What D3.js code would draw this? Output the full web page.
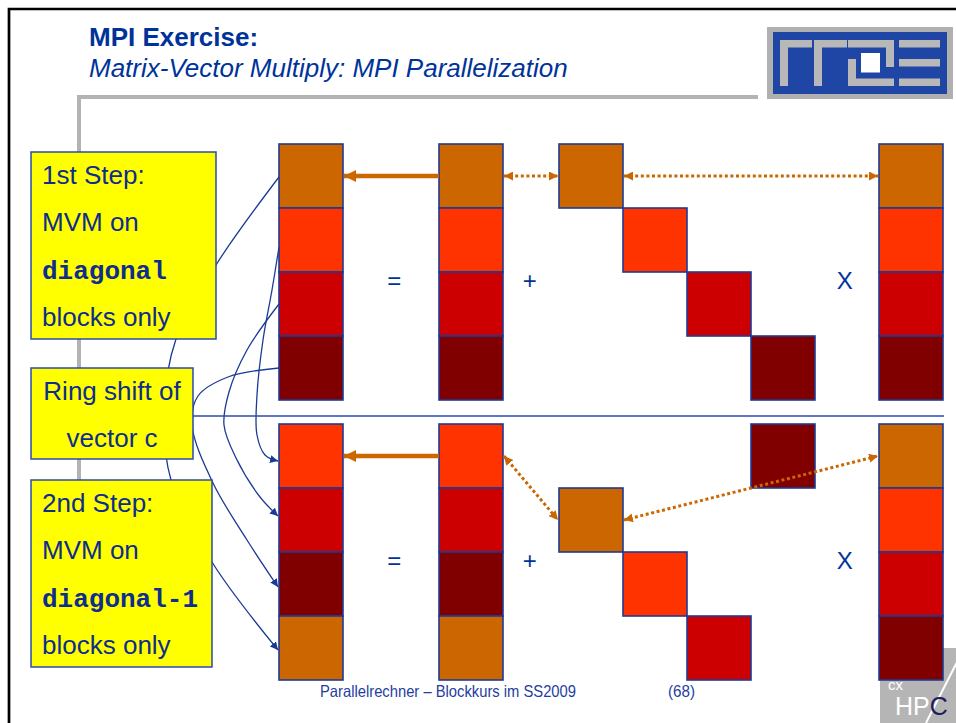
<!DOCTYPE html>
<html>
<head>
<meta charset="utf-8">
<script src="https://cdn.jsdelivr.net/npm/d3@7"></script>
<style>
	body { margin: 0; background: #fff; }
	svg { display: block; }
</style>
</head>
<body>
<div id="vis"></div>
<script>
// one colour per vector block c0..c3
var blockColors = ['#CC6600', '#FF3300', '#CC0000', '#800000'];
var steps = ['1st Step', '2nd Step'];
// colour index of each block, top to bottom, per step
var resultBlocks = [[0, 1, 2, 3], [1, 2, 3, 0]];
var sumBlocks = [[0, 1, 2, 3], [1, 2, 3, 0]];
// matrix block column used in each block row (diagonal, diagonal-1)
var matrixCols = [[0, 1, 2, 3], [3, 0, 1, 2]];
var vectorBlocks = [[0, 1, 2, 3], [0, 1, 2, 3]];
var operators = ['=', '+', 'X'];

var titleText = 'MPI Exercise:';
var subtitleText = 'Matrix-Vector Multiply: MPI Parallelization';
var footerText = 'Parallelrechner \u2013 Blockkurs im SS2009';
var pageText = '(68)';

var box1Lines = [['1st Step:', 0], ['MVM on', 0], ['diagonal', 1], ['blocks only', 0]];
var box2Lines = [['Ring shift of', 0], ['vector c', 0]];
var box3Lines = [['2nd Step:', 0], ['MVM on', 0], ['diagonal-1', 1], ['blocks only', 0]];

var width = 956,
	height = 723;

var blue = '#003399',
	lineBlue = '#1a3a96',
	orange = '#CC6600',
	sans = '"Liberation Sans", Arial, sans-serif',
	mono = '"Liberation Mono", "Courier New", monospace';

var svg = d3.select('#vis')
	.append('svg')
	.attr('width', width)
	.attr('height', height);

// block units -> pixels
var x = d3.scaleLinear().domain([0, 1]).range([279, 343]);
var y = d3.scaleLinear().domain([0, 1]).range([144, 208]);

var colPos = { result: 0, sum: 2.5, matrix: 4.375, vector: 9.375 };
var panelOffset = [0, 4.375];
var opPos = [1.8, 3.92, 8.84];

var defs = svg.append('defs');
function marker(id, size, color, orient) {
	defs.append('marker')
		.attr('id', id)
		.attr('viewBox', '0 0 10 10')
		.attr('refX', 10)
		.attr('refY', 5)
		.attr('markerUnits', 'userSpaceOnUse')
		.attr('markerWidth', size)
		.attr('markerHeight', size)
		.attr('orient', orient)
	  .append('path')
		.attr('d', 'M0,0 L10,5 L0,10 Z')
		.attr('fill', color);
}
marker('solidHead', 12, orange, 'auto');
marker('dotHead', 9, orange, 'auto-start-reverse');
marker('blueHead', 8, lineBlue, 'auto');

// slide frame
svg.append('path')
	.attr('d', 'M9,' + height + ' V9 H' + width)
	.attr('fill', 'none')
	.attr('stroke', '#000')
	.attr('stroke-width', 2.7);

// grey rules
svg.append('path')
	.attr('d', 'M79,600 V97 H758')
	.attr('fill', 'none')
	.attr('stroke', '#b3b3b3')
	.attr('stroke-width', 4);

// rrze logo
var logo = svg.append('g');
logo.append('rect').attr('x', 767).attr('y', 27).attr('width', 186).attr('height', 72).attr('fill', '#b0b0b0');
logo.append('rect').attr('x', 773).attr('y', 32).attr('width', 174).attr('height', 62).attr('fill', '#1f45a5');
var logoBars = [
	[780, 40, 32, 7.5], [780, 40, 8, 46],
	[814, 40, 33, 7.5], [814, 40, 8, 46],
	[848, 40, 46, 7.5], [886, 40, 8, 27], [848, 59, 8, 27], [848, 78.5, 46, 7.5],
	[899, 40, 41, 7.5], [899, 59, 41, 7.5], [899, 78.5, 41, 7.5]
];
logo.selectAll('.bar').data(logoBars).enter().append('rect')
	.attr('x', function(d) { return d[0]; })
	.attr('y', function(d) { return d[1]; })
	.attr('width', function(d) { return d[2]; })
	.attr('height', function(d) { return d[3]; })
	.attr('fill', '#b8b8b8');
logo.append('rect').attr('x', 861).attr('y', 53).attr('width', 19).attr('height', 19.5).attr('fill', '#fff');

// HPC logo bottom right
var hpc = svg.append('g');
hpc.append('rect').attr('x', 880).attr('y', 648).attr('width', 76).attr('height', 75).attr('fill', '#b5b5b5');
hpc.append('line').attr('x1', 926).attr('y1', 723).attr('x2', 958).attr('y2', 660)
	.attr('stroke', '#fff').attr('stroke-width', 2);
hpc.append('text').attr('x', 888).attr('y', 690).attr('fill', '#fff')
	.attr('font-family', sans).attr('font-size', 15).text('cx');
hpc.append('text').attr('x', 895).attr('y', 715).attr('fill', '#fff')
	.attr('font-family', sans).attr('font-size', 25).text('HP')
  .append('tspan').attr('fill', '#1c1c5c').text('C');

// title
svg.append('text')
	.attr('x', 89).attr('y', 46)
	.attr('fill', blue)
	.attr('font-family', sans)
	.attr('font-size', 26)
	.attr('font-weight', 'bold')
	.text(titleText);
svg.append('text')
	.attr('x', 89).attr('y', 77)
	.attr('fill', blue)
	.attr('font-family', sans)
	.attr('font-size', 26)
	.attr('font-style', 'italic')
	.text(subtitleText);

// ring shift curves (behind the yellow boxes)
var curves = [
	[[279, 177], [216, 265], [176, 339], [164, 410], [171, 480], [212, 562], [278, 650]],
	[[279, 247], [272, 290], [263, 340], [257, 395], [257, 435], [265, 455], [278, 461]],
	[[279, 304], [247, 350], [229, 392], [224, 425], [236, 458], [260, 497], [278, 516]],
	[[279, 368], [228, 377], [198, 396], [192, 425], [213, 483], [247, 540], [278, 587]]
];
var curveLine = d3.line().curve(d3.curveCatmullRom.alpha(0.5));
svg.append('g').selectAll('path')
	.data(curves)
	.enter().append('path')
	.attr('d', curveLine)
	.attr('fill', 'none')
	.attr('stroke', lineBlue)
	.attr('stroke-width', 1.3)
	.attr('marker-end', 'url(#blueHead)');

// separator between the two steps
svg.append('line')
	.attr('x1', 193).attr('x2', 944)
	.attr('y1', 416).attr('y2', 416)
	.attr('stroke', '#2a4ab0')
	.attr('stroke-width', 1.6);

// blocks
var blocks = [];
steps.forEach(function(s, p) {
	var off = panelOffset[p];
	resultBlocks[p].forEach(function(c, i) { blocks.push({ u: colPos.result, v: off + i, c: c }); });
	sumBlocks[p].forEach(function(c, i) { blocks.push({ u: colPos.sum, v: off + i, c: c }); });
	matrixCols[p].forEach(function(col, i) { blocks.push({ u: colPos.matrix + col, v: off + i, c: col }); });
	vectorBlocks[p].forEach(function(c, i) { blocks.push({ u: colPos.vector, v: off + i, c: c }); });
});

svg.append('g').selectAll('rect')
	.data(blocks)
	.enter().append('rect')
	.attr('x', function(d) { return x(d.u); })
	.attr('y', function(d) { return y(d.v); })
	.attr('width', x(1) - x(0))
	.attr('height', y(1) - y(0))
	.attr('fill', function(d) { return blockColors[d.c]; })
	.attr('stroke', '#1f3a94')
	.attr('stroke-width', 1.6);

// operators
steps.forEach(function(s, p) {
	svg.append('g').selectAll('text')
		.data(operators)
		.enter().append('text')
		.attr('x', function(d, i) { return x(opPos[i]); })
		.attr('y', y(panelOffset[p] + 2) + 17)
		.attr('text-anchor', 'middle')
		.attr('fill', blue)
		.attr('font-family', sans)
		.attr('font-size', 24)
		.text(function(d) { return d; });
});

// orange arrows
var arrows = svg.append('g');
steps.forEach(function(s, p) {
	var off = panelOffset[p];
	var r0 = matrixCols[p].indexOf(0);
	arrows.append('line')
		.attr('x1', x(colPos.sum)).attr('y1', y(off + 0.5))
		.attr('x2', x(colPos.result + 1) + 1).attr('y2', y(off + 0.5))
		.attr('stroke', orange).attr('stroke-width', 4.5)
		.attr('marker-end', 'url(#solidHead)');
	var dotted = [
		[x(colPos.sum + 1) + 1, y(off + 0.5), x(colPos.matrix) - 1, y(off + r0 + 0.5)],
		[x(colPos.matrix + 1) + 1, y(off + r0 + 0.5), x(colPos.vector) - 1, y(off + 0.5)]
	];
	dotted.forEach(function(d) {
		arrows.append('line')
			.attr('x1', d[0]).attr('y1', d[1])
			.attr('x2', d[2]).attr('y2', d[3])
			.attr('stroke', orange).attr('stroke-width', 3)
			.attr('stroke-dasharray', '3,2.6')
			.attr('marker-start', 'url(#dotHead)')
			.attr('marker-end', 'url(#dotHead)');
	});
});

// yellow label boxes
var boxes = [
	{ x: 31, y: 152, w: 185, h: 187, lines: box1Lines, anchor: 'start' },
	{ x: 31, y: 368, w: 162, h: 91, lines: box2Lines, anchor: 'middle' },
	{ x: 31, y: 480, w: 181, h: 187, lines: box3Lines, anchor: 'start' }
];
boxes.forEach(function(b) {
	var g = svg.append('g');
	g.append('rect')
		.attr('x', b.x).attr('y', b.y)
		.attr('width', b.w).attr('height', b.h)
		.attr('fill', '#FFFF00')
		.attr('stroke', '#2a4ab0')
		.attr('stroke-width', 1.5);
	g.selectAll('text')
		.data(b.lines)
		.enter().append('text')
		.attr('x', b.anchor == 'middle' ? b.x + b.w / 2 : b.x + 11)
		.attr('y', function(d, i) { return b.y + 31.5 + i * 47.6; })
		.attr('text-anchor', b.anchor)
		.attr('fill', '#0d2d8f')
		.attr('font-family', function(d) { return d[1] ? mono : sans; })
		.attr('font-weight', function(d) { return d[1] ? 'bold' : 'normal'; })
		.attr('font-size', 26)
		.text(function(d) { return d[0]; });
});

// footer
svg.append('text')
	.attr('x', 320).attr('y', 697)
	.attr('fill', '#1f3ea0')
	.attr('font-family', sans)
	.attr('font-size', 16.5)
	.attr('textLength', 256)
	.attr('lengthAdjust', 'spacingAndGlyphs')
	.text(footerText);
svg.append('text')
	.attr('x', 668).attr('y', 697)
	.attr('fill', '#1f3ea0')
	.attr('font-family', sans)
	.attr('font-size', 16.5)
	.attr('textLength', 27)
	.attr('lengthAdjust', 'spacingAndGlyphs')
	.text(pageText);
</script>
</body>
</html>
